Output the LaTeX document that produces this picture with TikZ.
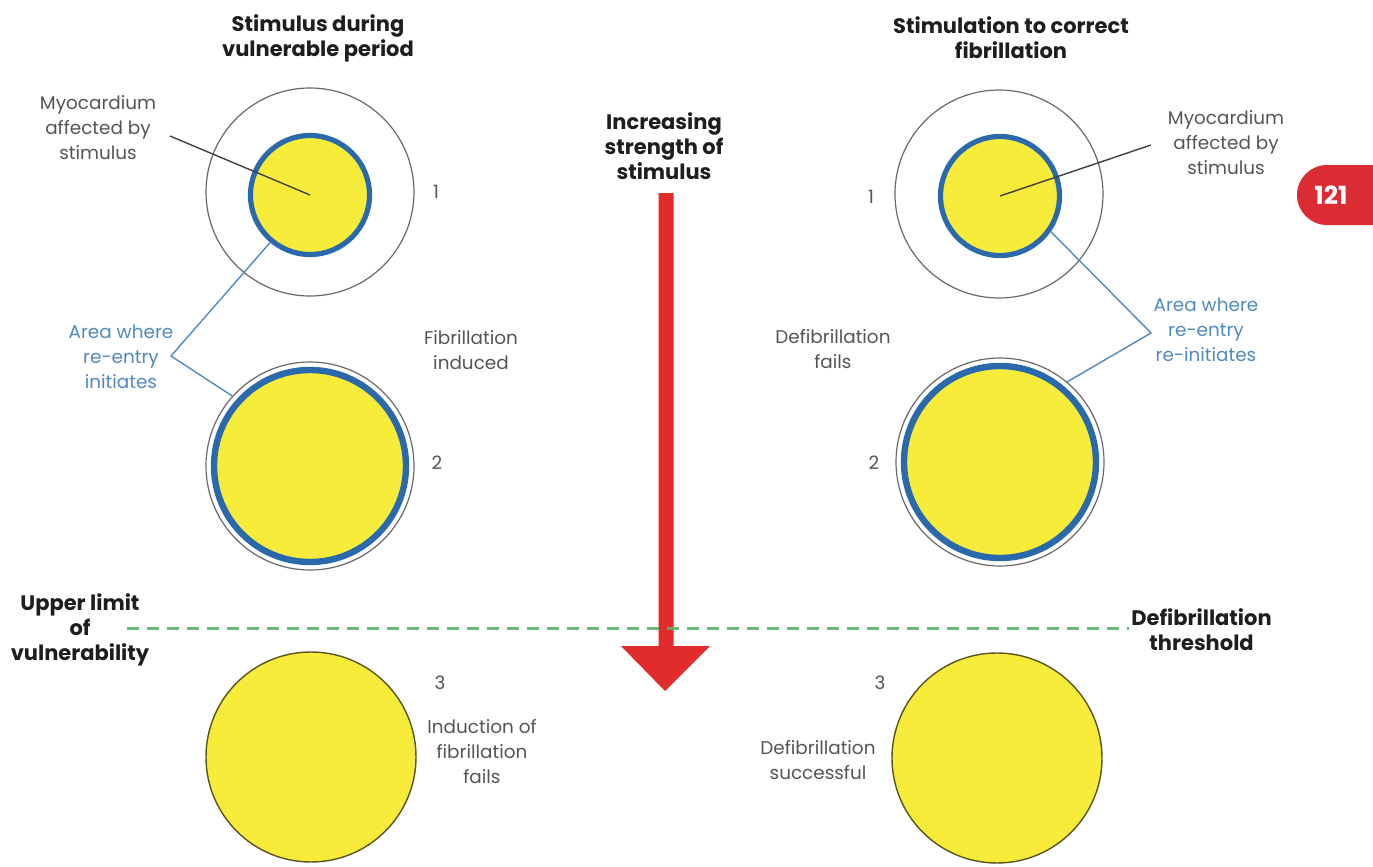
\documentclass[tikz,border=0pt]{standalone}
\usepackage{fontspec}
\setmainfont{Poppins}
\usetikzlibrary{calc}
\definecolor{yel}{RGB}{248,236,58}
\definecolor{ringblue}{RGB}{42,106,172}
\definecolor{leadblue}{RGB}{80,138,192}
\definecolor{txtgray}{RGB}{85,85,85}
\definecolor{ringgray}{RGB}{105,105,105}
\definecolor{arrred}{RGB}{226,44,44}
\definecolor{badgered}{RGB}{218,44,50}
\definecolor{dashgreen}{RGB}{92,178,100}
\definecolor{olive}{RGB}{90,84,32}
\definecolor{boldtxt}{RGB}{30,30,30}
\begin{document}
\begin{tikzpicture}[x=0.5pt,y=-0.5pt,
  outerring/.style={circle,draw=ringgray,line width=0.6pt,minimum size=104pt,inner sep=0pt},
  coreone/.style={circle,fill=yel,draw=ringblue,line width=2.6pt,minimum size=59.5pt,inner sep=0pt},
  coretwo/.style={circle,fill=yel,draw=ringblue,line width=3.2pt,minimum size=96pt,inner sep=0pt},
  corethree/.style={circle,fill=yel,draw=olive,line width=0.7pt,minimum size=105pt,inner sep=0pt},
  bodytxt/.style={align=center,text=txtgray,inner sep=0pt,font=\fontsize{9.2}{12.5}\selectfont},
  bluetxt/.style={bodytxt,text=leadblue},
  numtxt/.style={text=txtgray,inner sep=0pt,font=\fontsize{9.2}{12.5}\selectfont},
  boldlbl/.style={align=center,text=boldtxt,inner sep=0pt,font=\fontsize{10.5}{12.5}\selectfont\bfseries},
  blackleader/.style={draw=black!75,line width=0.7pt},
  blueleader/.style={draw=leadblue,line width=0.7pt},
  thresh/.style={draw=dashgreen,line width=1.5pt,dash pattern=on 6pt off 4pt,opacity=0.9}
]
\useasboundingbox (0,0) rectangle (1373,867);
\fill[white] (0,0) rectangle (1373,867);

% titles
\node[boldlbl] (tL) at (318,38) {Stimulus during\\vulnerable period};
\node[boldlbl] (tR) at (1011,38) {Stimulation to correct\\fibrillation};
\node[boldlbl] (tM) at (664,146) {Increasing\\strength of\\stimulus};

% left column
\node[outerring] (o1L) at (310,192) {};
\node[coreone] (c1L) at (310,195) {};
\node[outerring] (o2L) at (310,466) {};
\node[coretwo] (c2L) at (310,466) {};
\node[corethree] (c3L) at (311,757) {};

% right column
\node[outerring] (o1R) at (999,194) {};
\node[coreone] (c1R) at (1000,196) {};
\node[outerring] (o2R) at (1000,462) {};
\node[coretwo] (c2R) at (1000,462) {};
\node[corethree] (c3R) at (997,758) {};

% numbers
\node[numtxt] (n1L) at (436,192) {1};
\node[numtxt] (n2L) at (437,463) {2};
\node[numtxt] (n3L) at (440,683) {3};
\node[numtxt] (n1R) at (871,197) {1};
\node[numtxt] (n2R) at (874,463) {2};
\node[numtxt] (n3R) at (880,683) {3};

% labels
\node[bodytxt] (myoL) at (98,128) {Myocardium\\affected by\\stimulus};
\node[bodytxt] (myoR) at (1226,143) {Myocardium\\affected by\\stimulus};
\node[bluetxt] (areaL) at (121,357) {Area where\\re-entry\\initiates};
\node[bluetxt] (areaR) at (1206,330) {Area where\\re-entry\\re-initiates};
\node[bodytxt] (fibind) at (471,350) {Fibrillation\\induced};
\node[bodytxt] (defail) at (833,349) {Defibrillation\\fails};
\node[bodytxt] (indfail) at (482,752) {Induction of\\fibrillation\\fails};
\node[bodytxt] (desucc) at (818,760) {Defibrillation\\successful};

% leaders
\coordinate (mL) at (170,136);
\coordinate (mR) at (1151,145);
\coordinate (vL) at (171,356);
\coordinate (vR) at (1151,333);
\draw[blackleader] (mL) -- (c1L.center);
\draw[blackleader] (mR) -- (c1R.center);
\draw[blueleader] (c1L.230) -- (vL) -- (o2L.138);
\draw[blueleader] (c1R.-35) -- (vR) -- (o2R.50);

% red arrow
\coordinate (arrTip) at (665,691);
\fill[arrred] (658.5,193) -- (673.5,193) -- (673.5,646) -- (710,646) -- (arrTip) -- (621,646) -- (658.5,646) -- cycle;

% threshold line
\node[boldlbl] (upper) at (80,630) {Upper limit\\of\\vulnerability};
\node[boldlbl,anchor=west] (defth) at (1131,630) {Defibrillation\\threshold};
\coordinate (dA) at (127,628);
\coordinate (dB) at (1129,628);
\draw[thresh] (dA) -- (dB);

% page badge
\begin{scope}
\clip (0,0) rectangle (1373,867);
\fill[badgered,rounded corners=15pt] (1297,165) rectangle (1430,225);
\end{scope}
\node[text=white,inner sep=0pt,font=\fontsize{12.5}{14}\selectfont\bfseries] (pg) at (1331,195) {121};
\end{tikzpicture}
\end{document}
